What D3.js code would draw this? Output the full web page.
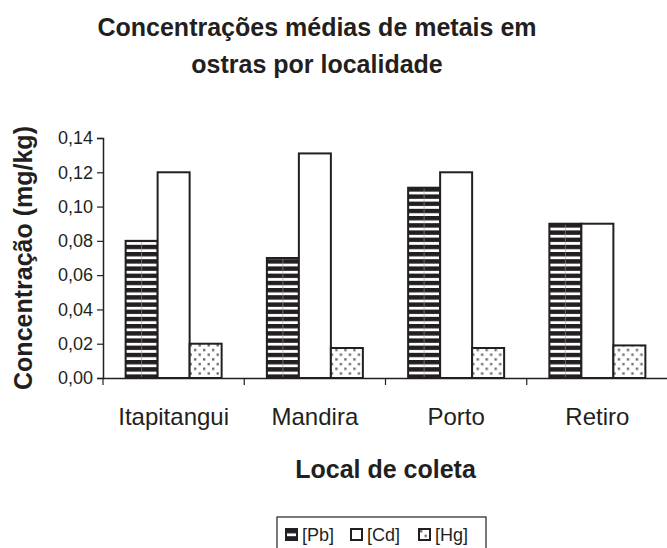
<!DOCTYPE html>
<html>
<head>
<meta charset="utf-8">
<script src="https://cdn.jsdelivr.net/npm/d3@7"></script>
<style>
  html, body { margin: 0; padding: 0; background: #fff; }
  svg { display: block; font-family: Arial, "Liberation Sans", sans-serif; }
</style>
</head>
<body>
<svg id="chart" width="667" height="548"></svg>
<script>
// Mean metal concentrations in oysters by sampling site (mg/kg)
const localities = ["Itapitangui", "Mandira", "Porto", "Retiro"];
const metals = ["[Pb]", "[Cd]", "[Hg]"];
const pb = [0.080, 0.070, 0.111, 0.090];
const cd = [0.120, 0.131, 0.120, 0.090];
const hg = [0.020, 0.0175, 0.0175, 0.019];
const yTicks = [0, 0.02, 0.04, 0.06, 0.08, 0.10, 0.12, 0.14];

const seriesValues = { "[Pb]": pb, "[Cd]": cd, "[Hg]": hg };
const ink = "#231f20";

const svg = d3.select("#chart");
const defs = svg.append("defs");

// Horizontal stripes for lead
const stripes = defs.append("pattern")
  .attr("id", "pat-pb").attr("patternUnits", "userSpaceOnUse")
  .attr("width", 8).attr("height", 7.2);
stripes.append("rect").attr("width", 8).attr("height", 7.2).attr("fill", "#fff");
stripes.append("rect").attr("y", 0).attr("width", 8).attr("height", 4.4).attr("fill", ink);

// Staggered grey dots for mercury
const dots = defs.append("pattern")
  .attr("id", "pat-hg").attr("patternUnits", "userSpaceOnUse")
  .attr("width", 9).attr("height", 9.4);
dots.append("rect").attr("width", 9).attr("height", 9.4).attr("fill", "#fff");
dots.append("rect").attr("x", 1).attr("y", 1).attr("width", 2.4).attr("height", 2.4).attr("fill", "#6e6e6e");
dots.append("rect").attr("x", 5.5).attr("y", 5.7).attr("width", 2.4).attr("height", 2.4).attr("fill", "#6e6e6e");

const fills = { "[Pb]": "url(#pat-pb)", "[Cd]": "#fff", "[Hg]": "url(#pat-hg)" };

const plot = { left: 103, right: 668, top: 138, bottom: 378 };

const x0 = d3.scaleBand().domain(localities).range([plot.left, plot.right]);
const x1 = d3.scaleBand().domain(metals).range([0, x0.bandwidth()]).paddingOuter(0.707);
const y = d3.scaleLinear().domain([0, 0.14]).range([plot.bottom, plot.top]);

// Bars
const groups = svg.append("g").selectAll("g")
  .data(localities).join("g")
  .attr("transform", d => `translate(${x0(d)},0)`);

groups.selectAll("rect")
  .data((d, i) => metals.map(m => ({ metal: m, value: seriesValues[m][i] })))
  .join("rect")
  .attr("x", d => x1(d.metal))
  .attr("y", d => y(d.value))
  .attr("width", x1.bandwidth())
  .attr("height", d => y(0) - y(d.value))
  .attr("fill", d => fills[d.metal])
  .attr("stroke", ink)
  .attr("stroke-width", 2);

// faint seam down the middle of the striped bars
groups.selectAll("line.seam")
  .data((d, i) => [{ value: pb[i] }])
  .join("line")
  .attr("class", "seam")
  .attr("x1", x1("[Pb]") + x1.bandwidth() / 2)
  .attr("x2", x1("[Pb]") + x1.bandwidth() / 2)
  .attr("y1", d => y(d.value) + 1)
  .attr("y2", y(0) - 1)
  .attr("stroke", "#999").attr("stroke-width", 1).attr("stroke-opacity", 0.6);

// Y axis
const yAxis = svg.append("g")
  .attr("transform", `translate(${plot.left},0)`)
  .call(d3.axisLeft(y).tickValues(yTicks).tickSize(6).tickPadding(4)
    .tickFormat(d => d3.format(".2f")(d).replace(".", ",")));
yAxis.select(".domain").attr("stroke", ink).attr("stroke-width", 1.5);
yAxis.selectAll(".tick line").attr("stroke", ink).attr("stroke-width", 1.2);
yAxis.selectAll("text").attr("font-size", 18).attr("fill", ink)
  .attr("font-family", "Arial, 'Liberation Sans', sans-serif");

// X axis: baseline with ticks at category boundaries
const xAxis = svg.append("g")
  .attr("transform", `translate(0,${plot.bottom})`)
  .call(d3.axisBottom(x0).tickSize(0).tickPadding(30));
xAxis.select(".domain").attr("stroke", ink).attr("stroke-width", 1.5);
xAxis.selectAll("text").attr("font-size", 24).attr("fill", ink)
  .attr("font-family", "Arial, 'Liberation Sans', sans-serif");

const boundaries = localities.map(d => x0(d)).concat([x0(localities[localities.length - 1]) + x0.bandwidth()]);
svg.append("g").selectAll("line").data(boundaries).join("line")
  .attr("x1", d => d).attr("x2", d => d)
  .attr("y1", plot.bottom).attr("y2", plot.bottom + 7)
  .attr("stroke", ink).attr("stroke-width", 1.2);

// Titles
const title = svg.append("text")
  .attr("text-anchor", "middle")
  .attr("font-size", 25).attr("font-weight", "bold").attr("fill", ink);
title.append("tspan").attr("x", 317).attr("y", 36).text("Concentrações médias de metais em");
title.append("tspan").attr("x", 317).attr("y", 73).text("ostras por localidade");

svg.append("text")
  .attr("transform", `translate(32,${(plot.top + plot.bottom) / 2}) rotate(-90)`)
  .attr("text-anchor", "middle")
  .attr("font-size", 25).attr("font-weight", "bold").attr("fill", ink)
  .text("Concentração (mg/kg)");

svg.append("text")
  .attr("x", (plot.left + plot.right) / 2).attr("y", 478)
  .attr("text-anchor", "middle")
  .attr("font-size", 25).attr("font-weight", "bold").attr("fill", ink)
  .text("Local de coleta");

// Legend
const legend = svg.append("g");
legend.append("rect")
  .attr("x", 277).attr("y", 517).attr("width", 209).attr("height", 40)
  .attr("fill", "#fff").attr("stroke", ink).attr("stroke-width", 1.2);

const legendX = [286, 351, 419];
const items = legend.selectAll("g.item").data(metals).join("g")
  .attr("class", "item")
  .attr("transform", (d, i) => `translate(${legendX[i]},529)`);
items.append("rect")
  .attr("width", 11).attr("height", 11)
  .attr("fill", d => fills[d])
  .attr("stroke", ink).attr("stroke-width", 2);
items.append("text")
  .attr("x", 16).attr("y", 12)
  .attr("font-size", 18).attr("fill", ink)
  .text(d => d);
</script>
</body>
</html>
